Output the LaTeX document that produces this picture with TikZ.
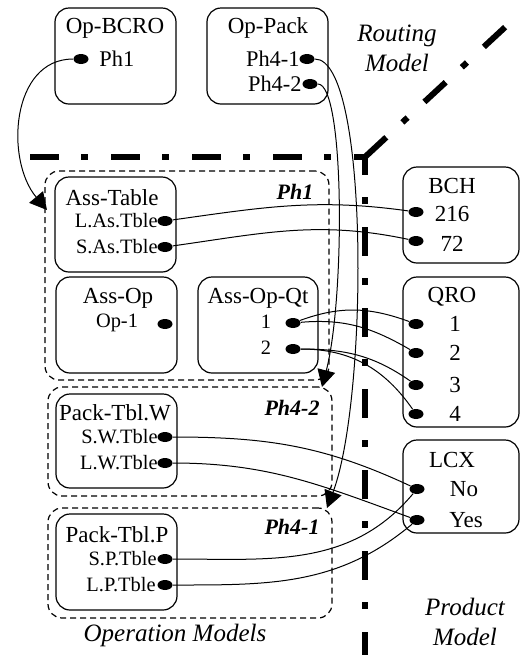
\documentclass[tikz,border=0pt]{standalone}
\usepackage{fontspec}
\setmainfont{Liberation Serif}
\usetikzlibrary{arrows.meta,shapes.geometric}

\begin{document}
\begin{tikzpicture}[
  x=0.5pt, y=-0.5pt,
  model/.style={draw, line width=0.6pt, rounded corners=7pt, minimum width=60.5pt, minimum height=48pt},
  phase/.style={draw, line width=0.6pt, dash pattern=on 3pt off 2pt, rounded corners=7pt, minimum width=142pt},
  mtitle/.style={font=\fontsize{11.5}{13}\selectfont, inner sep=0pt},
  attr/.style={font=\fontsize{10.2}{11}\selectfont, inner sep=0pt},
  phref/.style={font=\fontsize{11.2}{12}\selectfont, inner sep=0pt},
  val/.style={font=\fontsize{11.5}{13}\selectfont, inner sep=0pt},
  blob/.style={ellipse, fill, minimum width=7.5pt, minimum height=5pt, inner sep=0pt},
  phtag/.style={font=\fontsize{11}{12}\selectfont\bfseries\itshape, inner sep=0pt},
  zone/.style={font=\fontsize{12.5}{15}\selectfont\itshape, align=center, inner sep=0pt},
  divide/.style={line width=3pt, dash pattern=on 14.5pt off 11pt on 3.5pt off 11.5pt},
  link/.style={line width=0.5pt},
  jump/.style={line width=0.5pt, -{Triangle[length=8.5pt,width=9pt]}}
]
  \useasboundingbox (0,0) rectangle (520,655);

  % model borders
  \draw[divide] (30,157) -- (365,157) -- (365,660);
  \draw[divide] (365,157) -- (515,18);

  % routing model
  \node[model] (bcro) at (115.5,56) {};
  \node[mtitle] (bcrot) at (115,28) {Op-BCRO};
  \node[phref, anchor=west] (bcrop) at (99,59) {Ph1};
  \node[blob] (bph1) at (81,59) {};

  \node[model] (pack) at (267.5,56) {};
  \node[mtitle] (packt) at (268,28) {Op-Pack};
  \node[phref, anchor=east] (packp1) at (300,59) {Ph4-1};
  \node[phref, anchor=east] (packp2) at (302,84) {Ph4-2};
  \node[blob] (b41) at (307,59) {};
  \node[blob] (b42) at (310,84) {};

  \node[zone] (routing) at (397,48) {Routing\\Model};

  % operation models
  \node[phase, minimum height=104.5pt] (ph1) at (187,275.5) {};
  \node[phtag] (ph1t) at (295,192) {Ph1};
  \node[phase, minimum height=54.5pt] (ph42) at (190,441.5) {};
  \node[phtag] (ph42t) at (292,408) {Ph4-2};
  \node[phase, minimum height=55pt] (ph41) at (190,563) {};
  \node[phtag] (ph41t) at (292,527) {Ph4-1};

  \node[model, minimum height=47.5pt] (astab) at (115.5,224.5) {};
  \node[mtitle] (astabt) at (112,198) {Ass-Table};
  \node[attr, anchor=east] (las) at (158,221) {L.As.Tble};
  \node[attr, anchor=east] (sas) at (158,247) {S.As.Tble};
  \node[blob] (blas) at (165,221) {};
  \node[blob] (bsas) at (165,247) {};

  \node[model] (asop) at (116.5,325) {};
  \node[mtitle] (asopt) at (118,298) {Ass-Op};
  \node[attr] (op1) at (117,323) {Op-1};
  \node[blob] (bop1) at (165,324) {};

  \node[model, minimum width=60pt] (asqt) at (258,325) {};
  \node[mtitle] (asqtt) at (258,298) {Ass-Op-Qt};
  \node[attr] (qt1) at (266,322) {1};
  \node[attr] (qt2) at (266,348) {2};
  \node[blob] (bq1) at (293,323) {};
  \node[blob] (bq2) at (293,349) {};

  \node[model, minimum height=47pt] (pkw) at (116.5,441) {};
  \node[mtitle] (pkwt) at (115,413) {Pack-Tbl.W};
  \node[attr, anchor=east] (sw) at (158,437) {S.W.Tble};
  \node[attr, anchor=east] (lw) at (158,463) {L.W.Tble};
  \node[blob] (bsw) at (165,437) {};
  \node[blob] (blw) at (165,463) {};

  \node[model] (pkp) at (116.5,562) {};
  \node[mtitle] (pkpt) at (117,535) {Pack-Tbl.P};
  \node[attr, anchor=east] (sp) at (157,559) {S.P.Tble};
  \node[attr, anchor=east] (lp) at (156,585) {L.P.Tble};
  \node[blob] (bsp) at (165,559) {};
  \node[blob] (blp) at (165,585) {};

  \node[zone] (opmod) at (175,635) {Operation Models};

  % product model
  \node[model, minimum width=58pt] (bch) at (461,215) {};
  \node[mtitle] (bcht) at (452,186) {BCH};
  \node[val] (v216) at (452,214) {216};
  \node[val] (v72) at (452,244) {72};
  \node[blob] (b216) at (416,212) {};
  \node[blob] (b72) at (416,241) {};

  \node[model, minimum width=58pt, minimum height=75pt] (qro) at (461,352) {};
  \node[mtitle] (qrot) at (452,297) {QRO};
  \foreach \n/\y in {1/324, 2/353, 3/385, 4/414} {
    \node[val] (qv\n) at (455,\y) {\n};
    \node[blob] (bqro\n) at (416,\y) {};
  }

  \node[model, minimum width=58pt, minimum height=46.5pt] (lcx) at (461,486.5) {};
  \node[mtitle] (lcxt) at (452,460) {LCX};
  \node[val] (vno) at (464,489) {No};
  \node[val] (vyes) at (466,520) {Yes};
  \node[blob] (bno) at (417,489) {};
  \node[blob] (byes) at (417,520) {};

  \node[zone] (prodmod) at (465,622) {Product\\Model};

  % phase jumps
  \coordinate (in1) at (47,210);
  \coordinate (in42) at (322,387);
  \coordinate (in41) at (327,508);
  \draw[jump] (bph1) .. controls +(-70,0) and +(-42,-50) .. (in1);
  \draw[jump] (b42) .. controls +(35,0) and +(23,-88) .. (in42);
  \draw[jump] (b41) .. controls +(63,0) and +(41,-108) .. (in41);

  % links to the product model
  \draw[link] (blas) to[out=8, in=172] (b216);
  \draw[link] (bsas) to[out=8, in=168] (b72);
  \draw[link] (bq1) to[out=20, in=160] (bqro1);
  \draw[link] (bq1) to[out=5, in=150] (bqro2);
  \draw[link] (bq2) to[out=0, in=145] (bqro3);
  \draw[link] (bq2) to[out=0, in=125] (bqro4);
  \draw[link] (bsw) to[out=0, in=155] (bno);
  \draw[link] (blw) to[out=0, in=160] (byes);
  \draw[link] (bsp) to[out=0, in=-130] (bno);
  \draw[link] (blp) to[out=0, in=-140] (byes);
\end{tikzpicture}
\end{document}
